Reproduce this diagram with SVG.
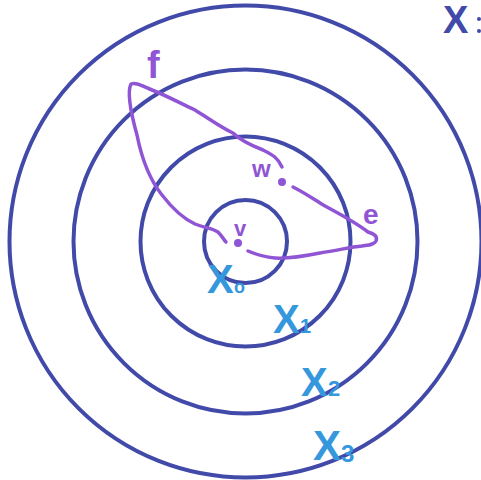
<svg xmlns="http://www.w3.org/2000/svg" width="481" height="480" viewBox="0 0 481 480">
<style>
.ring{fill:none;stroke:#4149a9;stroke-width:4}
.curve{fill:none;stroke:#8f55d4;stroke-width:3.5;stroke-linecap:round;stroke-linejoin:round}
.pt{fill:#8f55d4}
.pl{fill:#8f55d4;font-family:"Liberation Sans",sans-serif;font-weight:bold}
.xl{fill:#3598dc;font-family:"Liberation Sans",sans-serif;font-weight:bold}
</style>
<rect width="481" height="480" fill="#fff"/>
<g id="rings">
<circle id="X0ring" class="ring" cx="245.5" cy="241.5" r="41.5"/>
<circle id="X1ring" class="ring" cx="245.5" cy="241.5" r="105"/>
<circle id="X2ring" class="ring" cx="245.5" cy="241.5" r="172"/>
<circle id="X3ring" class="ring" cx="245.5" cy="241.5" r="236"/>
</g>
<g id="connectors">
<path class="curve" d="M282,167 C278,158 273,155 263,150 C250,145 240,140 233,133 C222,128 208,118 195,110 C180,103 165,95 152,90 C142,86 136,82 131,84 C127,92 130,110 137,135 C142,160 150,180 162,195 C172,208 182,218 195,224 C205,228 212,228 218,232 C222,236 224,240 226,242"/>
<path class="curve" d="M293,187 C305,193 315,200 325,206 C340,214 355,222 368,232 C374,234 378,236 376,241 C374,245 368,245 362,246 C350,247 340,250 320,253 C305,256 290,259 275,258 C262,257 255,254 248,251"/>
</g>
<g id="v"><circle class="pt" cx="238" cy="243" r="4"/><text class="pl" x="234" y="236" font-size="22">v</text></g>
<g id="w"><circle class="pt" cx="282" cy="182" r="4"/><text class="pl" x="252" y="177" font-size="24">w</text></g>
<g id="e"><text class="pl" x="363" y="224" font-size="28">e</text></g>
<g id="f"><text class="pl" x="147" y="78" font-size="38">f</text></g>
<g id="X0"><text class="xl" x="207" y="293" font-size="40">X</text><text class="xl" x="234" y="293" font-size="18">o</text></g>
<g id="X1"><text class="xl" x="273" y="333" font-size="40">X</text><text class="xl" x="300" y="333" font-size="20">1</text></g>
<g id="X2"><text class="xl" x="301" y="396" font-size="40">X</text><text class="xl" x="328" y="396" font-size="22">2</text></g>
<g id="X3"><text class="xl" x="313" y="460" font-size="42">X</text><text class="xl" x="341" y="462" font-size="24">3</text></g>
<g id="Xtop"><text x="443" y="33" font-size="38" fill="#4149a9" font-weight="bold" font-family="Liberation Sans,sans-serif">X</text><circle cx="479" cy="19" r="2" fill="#4149a9"/><circle cx="479" cy="31" r="2" fill="#4149a9"/></g>
</svg>
